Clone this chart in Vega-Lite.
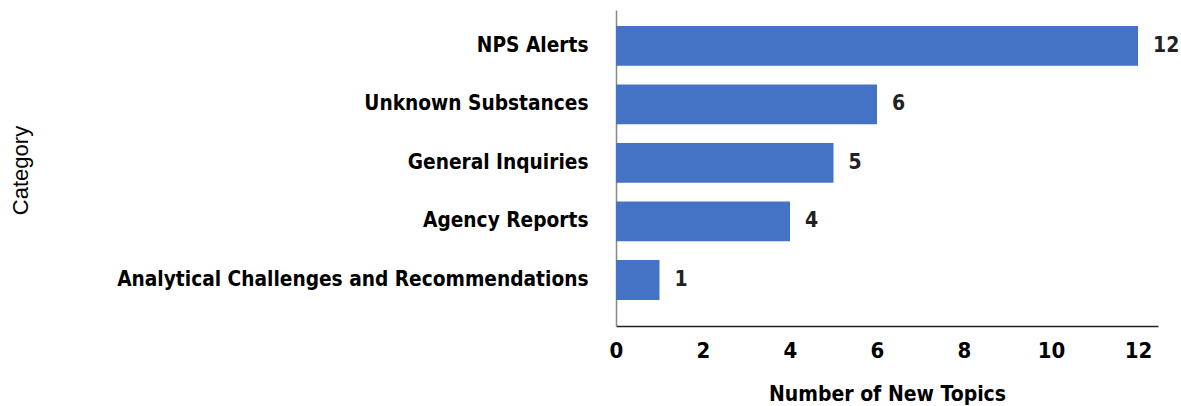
{
  "$schema": "https://vega.github.io/schema/vega-lite/v6.json",
  "autosize": "none",
  "width": 542,
  "height": 316,
  "padding": {"left": 616, "top": 10, "right": 23, "bottom": 80},
  "background": "white",
  "data": {"values": [
    {"category": "NPS Alerts", "count": 12},
    {"category": "Unknown Substances", "count": 6},
    {"category": "General Inquiries", "count": 5},
    {"category": "Agency Reports", "count": 4},
    {"category": "Analytical Challenges and Recommendations", "count": 1}
  ]},
  "config": {
    "view": {"stroke": null},
    "font": "DejaVu Sans Condensed",
    "axis": {"grid": false, "ticks": false}
  },
  "encoding": {
    "y": {
      "field": "category", "type": "nominal", "sort": null,
      "scale": {"paddingInner": 0.32, "paddingOuter": 0.36, "align": 0.38},
      "axis": {
        "title": "Category", "titleFont": "Liberation Sans", "titleFontSize": 22, "titleFontWeight": "normal", "titleColor": "#000",
        "titleX": -596, "titleY": 160, "titleAngle": -90, "titleAlign": "center", "titleBaseline": "middle",
        "labelFontSize": 20.7, "labelFontWeight": "bold", "labelColor": "#000", "labelPadding": 28, "labelLimit": 600,
        "domainColor": "#888", "domainWidth": 1.5
      }
    },
    "x": {
      "field": "count", "type": "quantitative",
      "scale": {"domain": [0, 12.46], "nice": false, "zero": true},
      "axis": {
        "title": "Number of New Topics", "values": [0, 2, 4, 6, 8, 10, 12],
        "labelFontSize": 22, "labelFontWeight": "bold", "labelColor": "#000", "labelPadding": 14, "labelFlush": false,
        "titleFontSize": 21, "titleFontWeight": "bold", "titleColor": "#000",
        "titleX": 271, "titleY": 68, "titleBaseline": "middle",
        "domainColor": "#222", "domainWidth": 1.5
      }
    }
  },
  "layer": [
    {"mark": {"type": "bar", "color": "#4472C4"}},
    {
      "mark": {"type": "text", "align": "left", "baseline": "middle", "dx": 15, "fontSize": 21, "fontWeight": "bold", "color": "#222"},
      "encoding": {"text": {"field": "count", "type": "quantitative"}}
    }
  ]
}
